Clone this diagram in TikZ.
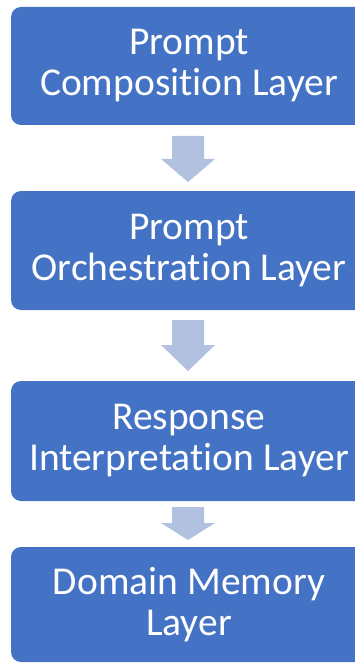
\documentclass[tikz,border=0pt]{standalone}
\usepackage{fontspec}
\setmainfont[Ligatures=NoCommon]{Carlito}
\definecolor{layerblue}{HTML}{4472C4}
\definecolor{arrowblue}{HTML}{B3C1E1}
\begin{document}
\begin{tikzpicture}[x=1pt,y=-1pt,
  layer/.style={fill=layerblue, draw=none, rounded corners=10pt,
    minimum width=356pt, text=white, align=center,
    font=\fontsize{39.5}{41}\selectfont, inner sep=0pt},
  flow/.style={fill=arrowblue, draw=none}]
\useasboundingbox (0,0) rectangle (355,663);
\begin{scope}
\clip (0,0) rectangle (355,663);
\node[layer, minimum height=118pt] (l1) at (189,66) {Prompt\\Composition Layer};
\node[layer, minimum height=119pt] (l2) at (189,250.5) {Prompt\\Orchestration Layer};
\node[layer, minimum height=120pt] (l3) at (189,441) {Response\\Interpretation Layer};
\node[layer, minimum height=115pt] (l4) at (189,604.5) {Domain Memory\\Layer};
\end{scope}
% block arrows between the layers
\fill[flow] (172,136) -- (204,136) -- (204,159) -- (215,159) -- (188,182) -- (161,159) -- (172,159) -- cycle;
\fill[flow] (172,320) -- (204,320) -- (204,345) -- (215,345) -- (188,371) -- (161,345) -- (172,345) -- cycle;
\fill[flow] (172,507) -- (204,507) -- (204,523) -- (215,523) -- (188,540) -- (161,523) -- (172,523) -- cycle;
\end{tikzpicture}
\end{document}
